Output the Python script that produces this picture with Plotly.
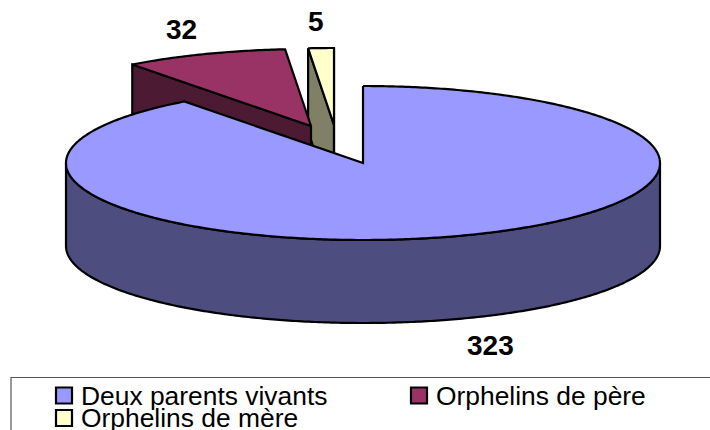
import numpy as np
import plotly.graph_objects as go

categories = ["Deux parents vivants", "Orphelins de père", "Orphelins de mère"]
values = [323, 32, 5]
top_colors = ["#9999FF", "#993366", "#FFFFCC"]
side_colors = ["#4D4D80", "#4D1A33", "#808066"]

# Projected pie geometry, in pixels of the 710x430 canvas
CX, CY, RX, RY, DEPTH = 363, 163, 297, 77, 83
explode = [(0, 0), (-52, -37), (-29, -38)]
label_pos = [(490.5, 345), (181, 29), (316, 21)]
FONT = "Liberation Sans, Arial, sans-serif"

total = sum(values)
edges = np.concatenate([[0], np.cumsum(values)]) / total * 2 * np.pi


def rim(a0, a1, dx=0, dy=0):
    """Points on the elliptical rim; angles run clockwise from the back."""
    t = np.linspace(a0, a1, max(2, int(abs(a1 - a0) * 90)))
    return CX + dx + RX * np.sin(t), CY + dy - RY * np.cos(t)


def polygon(x, y, color):
    return go.Scatter(
        x=list(x) + [x[0]], y=list(y) + [y[0]], mode="lines", fill="toself",
        fillcolor=color, line=dict(color="black", width=2.2, simplify=False),
        hoverinfo="skip", showlegend=False,
    )


def cut_face(angle, dx, dy, color):
    """Vertical wall between the apex and the rim at a given angle."""
    ax, ay = CX + dx, CY + dy
    ex, ey = rim(angle, angle, dx, dy)
    ex, ey = ex[0], ey[0]
    return polygon([ax, ex, ex, ax], [ay, ey, ey + DEPTH, ay + DEPTH], color)


def wedge(i):
    dx, dy = explode[i]
    x, y = rim(edges[i], edges[i + 1], dx, dy)
    return polygon(np.append(x, CX + dx), np.append(y, CY + dy), top_colors[i])


fig = go.Figure()

# Back-to-front: small detached slices first, the main slice last
fig.add_trace(cut_face(edges[2], *explode[2], side_colors[2]))
fig.add_trace(cut_face(edges[3], *explode[2], side_colors[2]))
fig.add_trace(wedge(2))
fig.add_trace(cut_face(edges[1], *explode[1], side_colors[1]))
fig.add_trace(wedge(1))

# Front wall of the main slice
fx, fy = rim(np.pi / 2, 3 * np.pi / 2)
fig.add_trace(polygon(np.concatenate([fx, fx[::-1]]),
                      np.concatenate([fy, fy[::-1] + DEPTH]), side_colors[0]))
fig.add_trace(wedge(0))

annotations = [
    dict(x=px, y=py, text=f"<b>{v}</b>", showarrow=False,
         font=dict(family=FONT, size=28, color="black"))
    for v, (px, py) in zip(values, label_pos)
]

# Legend frame, swatches and captions
swatch_pos = [(55, 395.5), (410, 395.5), (55, 418)]
shapes = [dict(type="rect", x0=11, y0=377.5, x1=730, y1=450,
               line=dict(color="#555555", width=1.2))]
for name, color, (sx, sy) in zip(categories, top_colors, swatch_pos):
    shapes.append(dict(type="rect", x0=sx + 1, x1=sx + 17, y0=sy - 8, y1=sy + 8,
                       fillcolor=color, line=dict(color="black", width=2.2)))
    annotations.append(dict(x=sx + 24, y=sy, text=name, showarrow=False,
                            xanchor="left", yanchor="middle",
                            font=dict(family=FONT, size=26.4, color="black")))

fig.update_layout(
    width=710, height=430, margin=dict(l=0, r=0, t=0, b=0),
    paper_bgcolor="white", plot_bgcolor="white",
    xaxis=dict(range=[0, 710], visible=False, fixedrange=True),
    yaxis=dict(range=[430, 0], visible=False, fixedrange=True),
    shapes=shapes, annotations=annotations, showlegend=False,
)

fig.write_html("out.html", config=dict(displayModeBar=False))
